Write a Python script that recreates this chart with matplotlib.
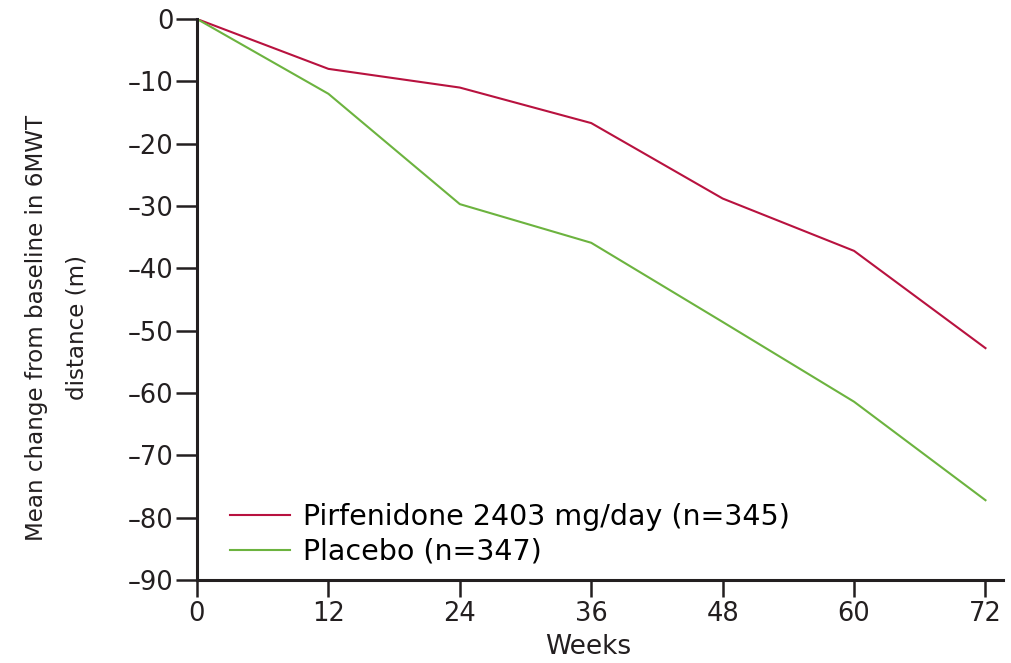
"""
Mean change in 6MWT distance over 72 weeks, pirfenidone vs placebo.
"""

import matplotlib
matplotlib.use("Agg")
import matplotlib.pyplot as plt

# Data
weeks = [0, 12, 24, 36, 48, 60, 72]
pirfenidone = [0, -8.0, -11.0, -16.7, -28.8, -37.2, -52.8]
placebo = [0, -12.0, -29.7, -35.9, -48.6, -61.4, -77.2]

series_labels = ["Pirfenidone 2403 mg/day (n=345)", "Placebo (n=347)"]
y_ticks = [0, -10, -20, -30, -40, -50, -60, -70, -80, -90]
x_ticks = [0, 12, 24, 36, 48, 60, 72]

RED = "#b8123f"
GREEN = "#6cb33f"
INK = "#231f20"

plt.rcParams["font.family"] = ["DejaVu Sans"]
plt.rcParams["axes.unicode_minus"] = True

W, H = 1011, 663
fig = plt.figure(figsize=(W / 100, H / 100), dpi=100)
ax = fig.add_axes([197 / W, 1 - 580 / H, 806 / W, 561 / H])

ax.plot(weeks, pirfenidone, color=RED, linewidth=1.5, label=series_labels[0])
ax.plot(weeks, placebo, color=GREEN, linewidth=1.5, label=series_labels[1])

ax.set_xlim(0, 73.6)
ax.set_ylim(-90, 0)
ax.set_xticks(x_ticks)
ax.set_yticks(y_ticks)
ax.set_yticklabels([str(v).replace("-", "\u2013") for v in y_ticks])

for side in ("top", "right"):
    ax.spines[side].set_visible(False)
for side in ("left", "bottom"):
    ax.spines[side].set_linewidth(2.2)
    ax.spines[side].set_color(INK)

ax.tick_params(axis="y", direction="out", length=15, width=1.8, pad=2,
               labelsize=18.5, colors=INK)
ax.tick_params(axis="x", direction="out", length=12, width=1.8, pad=3,
               labelsize=18.5, colors=INK)

# the reference crops this label at the bottom edge; keep it just inside
ax.set_xlabel("Weeks", fontsize=19, color=INK)
ax.xaxis.set_label_coords(0.485, -0.12)
ax.xaxis.label.set_va("center")

ax.set_ylabel("Mean change from baseline in 6MWT\ndistance (m)",
              fontsize=16.6, color=INK, linespacing=2.0)
ax.yaxis.set_label_coords(-0.174, 0.45)
ax.yaxis.label.set_va("center")

ax.legend(loc="lower left", bbox_to_anchor=(0.02, -0.005), frameon=False,
          fontsize=20.5, handlelength=2.1, handletextpad=0.45, labelspacing=0.25,
          borderaxespad=0.2)

fig.savefig("out.png", dpi=100)
